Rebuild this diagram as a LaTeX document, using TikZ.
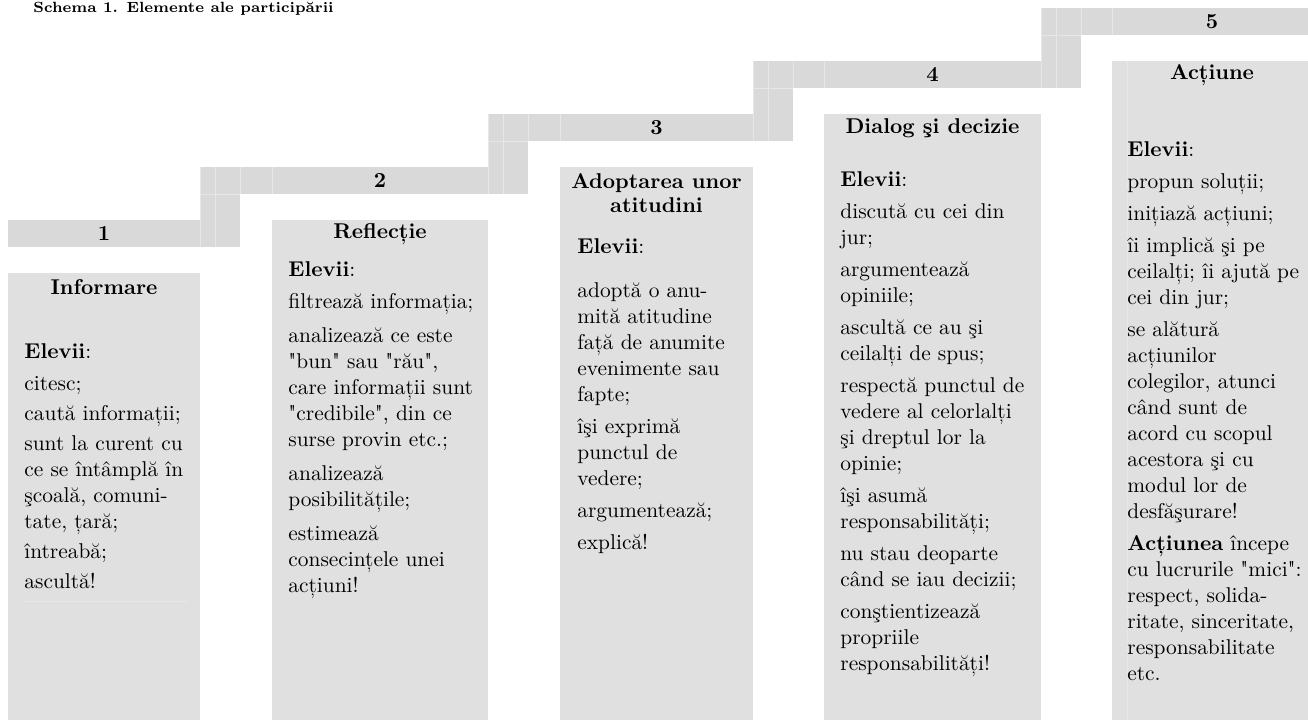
\documentclass[tikz,border=0pt]{standalone}
\usepackage{tikz}
\definecolor{bandgray}{HTML}{D9D9D9}
\definecolor{colgray}{HTML}{E0E0E0}
\definecolor{gridgray}{HTML}{E7E7E7}

\begin{document}
\begin{tikzpicture}[x=0.5pt, y=-0.5pt,
    every node/.style={font=\fontsize{10.7}{13}\selectfont, inner sep=0pt},
    band/.style={fill=bandgray},
    col/.style={fill=colgray},
    grid/.style={draw=gridgray, line width=0.5pt},
    num/.style={font=\fontsize{10.7}{13}\selectfont\bfseries},
    head/.style={font=\fontsize{10.7}{12}\selectfont\bfseries, align=center},
    body/.style={anchor=north west, align=left}]
  \useasboundingbox (0,0) rectangle (1308,720);

  % title
  \node[anchor=base west, font=\fontsize{7.4}{9}\selectfont\bfseries] (title) at (33,12) {Schema 1. Elemente ale participării};

  % steps
  \fill[band] (8,220) rectangle (200,247);
  \fill[band] (200,167) rectangle (488,194);
  \fill[band] (488,114) rectangle (753,141);
  \fill[band] (753,61) rectangle (1041,88);
  \fill[band] (1041,8) rectangle (1308,35);
  % risers
  \fill[band] (200,167) rectangle (240,247);
  \fill[band] (488,114) rectangle (528,194);
  \fill[band] (753,61) rectangle (793,141);
  \fill[band] (1041,8) rectangle (1081,88);
  \foreach \r/\t/\l in {200/167/272, 488/114/560, 753/61/824, 1041/8/1112}
    \draw[grid] (\r,\t) -- (\r,\t+80) (\r+15,\t) -- (\r+15,\t+80)
      (\r,\t+27) -- (\r+40,\t+27) (\r+40,\t) -- (\r+40,\t+27) (\l,\t) -- (\l,\t+27);

  % columns
  \fill[col] (8,273) rectangle (200,720);
  \fill[col] (272,220) rectangle (488,720);
  \fill[col] (560,167) rectangle (753,720);
  \fill[col] (824,114) rectangle (1041,720);
  \fill[col] (1112,61) rectangle (1308,720);
  \draw[grid] (24,601) -- (187,601);
  \draw[grid] (1127,61) -- (1127,720);

  \node[num] (n1) at (104,233.5) {1};
  \node[num] (n2) at (380,180.5) {2};
  \node[num] (n3) at (656.5,127.5) {3};
  \node[num] (n4) at (932.5,74.5) {4};
  \node[num] (n5) at (1212,21.5) {5};

  \node[head] (h1) at (104,287) {Informare};
  \node[head] (h2) at (380,234) {Reflecție};
  \node[head] (h3) at (656.5,193) {Adoptarea unor\\atitudini};
  \node[head] (h4) at (932.5,128) {Dialog şi decizie};
  \node[head] (h5) at (1212,75) {Acțiune};

  \node[body] (t1) at (24,343) {\textbf{Elevii}:\\[3pt]
    citesc;\\[2pt]
    caută informații;\\[2pt]
    sunt la curent cu\\
    ce se întâmplă în\\
    şcoală, comuni-\\
    tate, țară;\\[2pt]
    întreabă;\\[2pt]
    ascultă!};
  \node[body] (t2) at (288,261) {\textbf{Elevii}:\\[3pt]
    filtrează informația;\\[4pt]
    analizează ce este\\
    \textquotedbl bun\textquotedbl{} sau \textquotedbl rău\textquotedbl,\\
    care informații sunt\\
    \textquotedbl credibile\textquotedbl, din ce\\
    surse provin etc.;\\[4pt]
    analizează\\
    posibilitățile;\\[4pt]
    estimează\\
    consecințele unei\\
    acțiuni!};
  \node[body] (t3) at (577,238) {\textbf{Elevii}:\\[9pt]
    adoptă o anu-\\
    mită atitudine\\
    față de anumite\\
    evenimente sau\\
    fapte;\\[3pt]
    îşi exprimă\\
    punctul de\\
    vedere;\\[3pt]
    argumentează;\\[3pt]
    explică!};
  \node[body] (t4) at (840,171) {\textbf{Elevii}:\\[3pt]
    discută cu cei din\\
    jur;\\[3pt]
    argumentează\\
    opiniile;\\[3pt]
    ascultă ce au şi\\
    ceilalți de spus;\\[3pt]
    respectă punctul de\\
    vedere al celorlalți\\
    şi dreptul lor la\\
    opinie;\\[3pt]
    îşi asumă\\
    responsabilități;\\[3pt]
    nu stau deoparte\\
    când se iau decizii;\\[3pt]
    conştientizează\\
    propriile\\
    responsabilități!};
  \node[body] (t5) at (1127,141) {\textbf{Elevii}:\\[3pt]
    propun soluții;\\[3pt]
    inițiază acțiuni;\\[3pt]
    îi implică şi pe\\
    ceilalți; îi ajută pe\\
    cei din jur;\\[3pt]
    se alătură\\
    acțiunilor\\
    colegilor, atunci\\
    când sunt de\\
    acord cu scopul\\
    acestora şi cu\\
    modul lor de\\
    desfăşurare!\\[3pt]
    \textbf{Acțiunea} începe\\
    cu lucrurile \textquotedbl mici\textquotedbl:\\
    respect, solida-\\
    ritate, sinceritate,\\
    responsabilitate\\
    etc.};
\end{tikzpicture}
\end{document}
